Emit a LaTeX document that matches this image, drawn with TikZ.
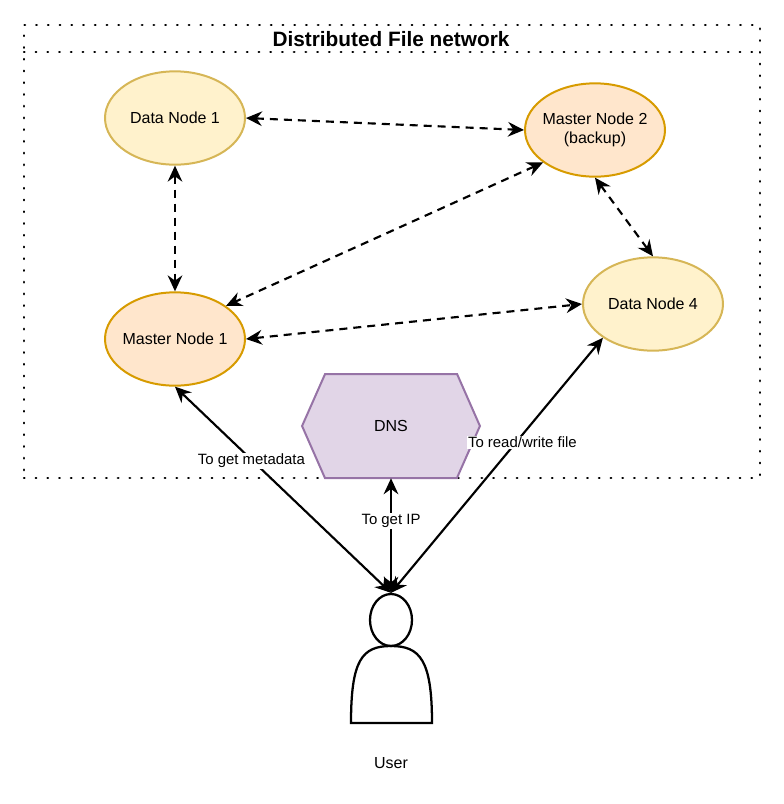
\documentclass[tikz,border=0pt]{standalone}
\usepackage{fontspec}
\setmainfont{Liberation Sans}
\usetikzlibrary{arrows.meta, shapes.geometric}

\definecolor{dataFill}{HTML}{FFF2CC}
\definecolor{dataLine}{HTML}{D6B656}
\definecolor{masterFill}{HTML}{FFE6CC}
\definecolor{masterLine}{HTML}{D79B00}
\definecolor{dnsFill}{HTML}{E1D5E7}
\definecolor{dnsLine}{HTML}{9673A6}

\begin{document}
\begin{tikzpicture}[
  x=0.75pt, y=-0.75pt,
  font=\fontsize{12}{14}\selectfont,
  frame/.style = {draw, line width=1.8pt, dash pattern=on 0.4pt off 8.4pt, line cap=round},
  datanode/.style = {ellipse, draw=dataLine, fill=dataFill, line width=1.5pt, minimum width=105pt, minimum height=70pt, inner sep=-6pt, align=center},
  masternode/.style = {ellipse, draw=masterLine, fill=masterFill, line width=1.5pt, minimum width=105pt, minimum height=70pt, inner sep=-6pt, align=center},
  dnsnode/.style = {minimum width=133pt, minimum height=78pt, inner sep=0pt},
  link/.style = {line width=1.6pt, dash pattern=on 6pt off 4.5pt, {Stealth[length=12pt,width=11pt,inset=4pt]}-{Stealth[length=12pt,width=11pt,inset=4pt]}},
  access/.style = {line width=1.6pt, {Stealth[length=12pt,width=11pt,inset=4pt]}-{Stealth[length=12pt,width=11pt,inset=4pt]}},
  tag/.style = {fill=white, inner sep=1pt, font=\fontsize{11.2}{13}\selectfont}
]

  \useasboundingbox (0,0) rectangle (784,804);

  % Network frame
  \node[frame, minimum width=552pt, minimum height=340pt, inner sep=0pt] (net) at (392,251.5) {};
  \coordinate (titleleft) at (24,52);
  \coordinate (titleright) at (760,52);
  \draw[frame] (titleleft) -- (titleright);
  \node[font=\fontsize{15.6}{18}\selectfont\bfseries] (title) at (391,39) {Distributed File network};

  % Nodes
  \node[datanode] (data1) at (175,118) {Data Node 1};
  \node[masternode] (master2) at (595,130) {Master Node 2\\(backup)};
  \node[masternode] (master1) at (175,339) {Master Node 1};
  \node[datanode] (data4) at (653,304) {Data Node 4};

  % DNS hexagon
  \node[dnsnode] (dns) at (391,426) {};
  \draw[draw=dnsLine, fill=dnsFill, line width=1.5pt] (dns.west) -- ++(23,-52) -- ++(132,0) -- (dns.east) -- ++(-23,52) -- ++(-132,0) -- cycle;
  \node (dnstext) at (dns.center) {DNS};

  % User
  \node[ellipse, draw, fill=white, line width=1.7pt, minimum width=31.5pt, minimum height=39pt, inner sep=0pt] (head) at (391,620) {};
  \coordinate (bodyleft) at (351,723);
  \coordinate (bodyright) at (432,723);
  \draw[line width=1.7pt] (bodyleft) .. controls (351,660) and (362,646) .. (391,646)
    .. controls (420,646) and (432,660) .. (bodyright) -- cycle;
  \node (user) at (391,763) {User};

  % Dashed links
  \draw[link] (data1.east) -- (master2.west);
  \draw[link] (data1.south) -- (master1.north);
  \draw[link] (master2.212) -- (master1.33);
  \draw[link] (master2.south) -- (data4.north);
  \draw[link] (master1.east) -- (data4.west);

  % User links
  \draw[access] (master1.south) -- node[tag, pos=0.36, xshift=-1pt] {To get metadata} (head.north);
  \draw[access] (dns.south) -- node[tag, pos=0.375] {To get IP} (head.north);
  \draw[access] (data4.214) -- node[tag, pos=0.41, xshift=4.8pt] {To read/write file} (head.north);

\end{tikzpicture}
\end{document}
